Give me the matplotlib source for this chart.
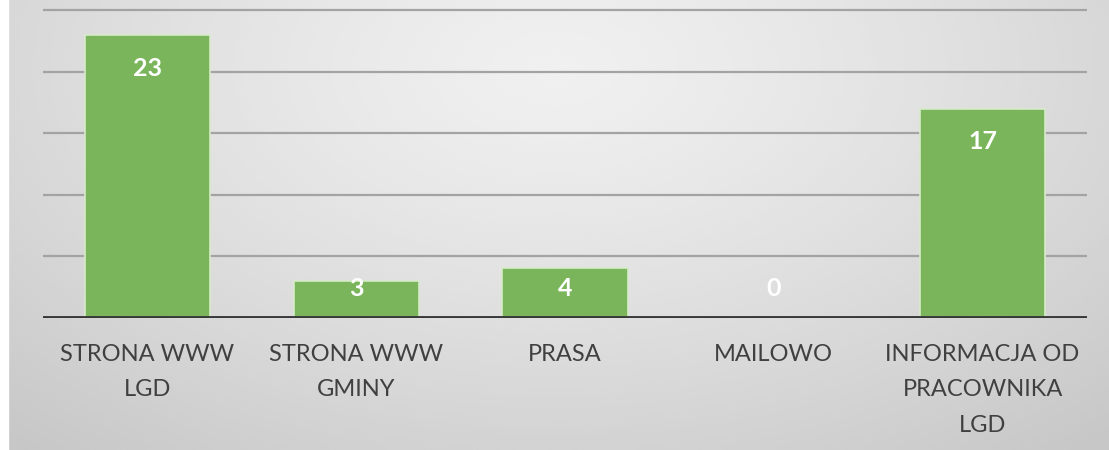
import matplotlib
matplotlib.use('Agg')
import matplotlib.pyplot as plt
import numpy as np

plt.rcParams['font.family'] = ['Lato', 'DejaVu Sans']

# dane
categories = ['STRONA WWW\nLGD', 'STRONA WWW\nGMINY', 'PRASA', 'MAILOWO',
              'INFORMACJA OD\nPRACOWNIKA\nLGD']
values = [23, 3, 4, 0, 17]
y_ticks = [0, 5, 10, 15, 20, 25]

fig = plt.figure(figsize=(11.09, 4.5), dpi=100)

# tło z gradientem
bg = fig.add_axes([0, 0, 1, 1], zorder=-10)
gx, gy = np.meshgrid(np.linspace(0, 1, 400), np.linspace(0, 1, 200))
r = np.sqrt(((gx - 0.5) / 0.75) ** 2 + ((gy - 0.85) / 1.1) ** 2)
r = np.clip(r, 0, 1)
light, dark = 0.94, 0.78
shade = light - (light - dark) * r ** 1.3
bg.imshow(shade, cmap='gray', vmin=0, vmax=1, origin='lower',
          extent=[0, 1, 0, 1], aspect='auto', interpolation='bicubic')
bg.add_patch(plt.Rectangle((0, 0), 8 / 1109, 1, color='white',
                           transform=bg.transAxes))
bg.set_xlim(0, 1)
bg.set_ylim(0, 1)
bg.axis('off')

ax = fig.add_axes([43 / 1109, 132.5 / 450, 1044 / 1109, 317.5 / 450])
ax.patch.set_alpha(0)

x = np.arange(len(categories))
ax.bar(x, values, width=0.6, color='#7ab55c', edgecolor='#d6ebc8',
       linewidth=1.2, zorder=3)

for xi, v in zip(x, values):
    ax.text(xi, max(v - 2.7, 2.4), str(v), ha='center', va='center',
            color='white', fontsize=18, fontweight='bold', zorder=5)

ax.set_xlim(-0.5, len(categories) - 0.5)
ax.set_ylim(0, 25.85)
ax.set_yticks(y_ticks)
ax.set_yticklabels([])
ax.yaxis.grid(True, color='#a3a3a3', linewidth=1.6, zorder=1)
ax.tick_params(axis='y', length=0)
ax.axhline(0, color='#383838', linewidth=3.5, zorder=4)

ax.set_xticks(x)
ax.set_xticklabels(categories, fontsize=17, color='#404040', linespacing=1.85)
ax.tick_params(axis='x', length=0, pad=19)

for s in ax.spines.values():
    s.set_visible(False)

plt.savefig('out.png', dpi=100)
